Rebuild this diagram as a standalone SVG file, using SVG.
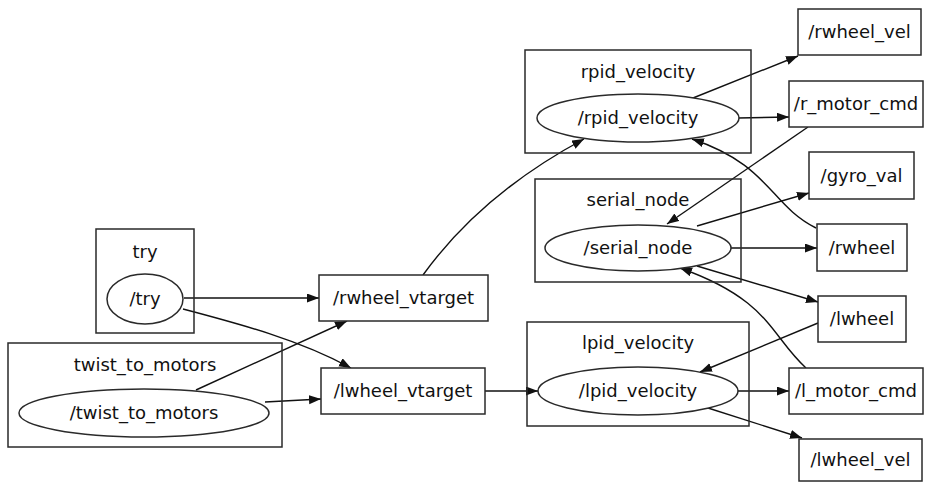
<svg xmlns="http://www.w3.org/2000/svg" width="925" height="485" viewBox="0 0 925 485">
  <style>
    .box { fill: none; stroke: #2a2a2a; stroke-width: 1.5; }
    .topic { fill: #ffffff; stroke: #2a2a2a; stroke-width: 1.5; }
    .node { fill: #ffffff; stroke: #2a2a2a; stroke-width: 1.5; }
    .edge { fill: none; stroke: #111111; stroke-width: 1.4; marker-end: url(#arrow); }
    text { font-family: "DejaVu Sans", "Liberation Sans", sans-serif; font-size: 18px; fill: #111111; text-anchor: middle; }
  </style>
  <defs>
    <marker id="arrow" markerUnits="userSpaceOnUse" markerWidth="14" markerHeight="10" refX="12" refY="4.5" orient="auto">
      <path d="M0,0 L12,4.5 L0,9 Z" fill="#111"/>
    </marker>
  </defs>
  <rect width="925" height="485" fill="#ffffff"/>

  <!-- connectors -->
  <g id="edges">
    <path class="edge" d="M184,298 L319,298"/>
    <path class="edge" d="M183,309 C240,324 300,340 351,368"/>
    <path class="edge" d="M196,390 L347,321"/>
    <path class="edge" d="M265,402 L321,399"/>
    <path class="edge" d="M423,275 C470,210 530,168 584,139"/>
    <path class="edge" d="M485,391 L538,391"/>
    <path class="edge" d="M693,98 L798,56"/>
    <path class="edge" d="M738,118 L789,117"/>
    <path class="edge" d="M808,127 L667,224"/>
    <path class="edge" d="M816,228 C770,205 770,165 692,139"/>
    <path class="edge" d="M697,226 L809,193"/>
    <path class="edge" d="M731,248 L817,248"/>
    <path class="edge" d="M697,266 L818,302"/>
    <path class="edge" d="M806,368 C770,335 770,300 680,268"/>
    <path class="edge" d="M818,323 L700,372"/>
    <path class="edge" d="M738,391 L789,391"/>
    <path class="edge" d="M708,408 L802,438"/>
  </g>

  <!-- node: try -->
  <g id="try">
    <rect class="box" x="96" y="229" width="98" height="104"/>
    <text x="145" y="258">try</text>
    <ellipse class="node" cx="145" cy="299" rx="38" ry="25"/>
    <text x="145" y="305">/try</text>
  </g>

  <!-- node: twist_to_motors -->
  <g id="twist_to_motors">
    <rect class="box" x="8" y="343" width="274" height="104"/>
    <text x="145" y="371">twist_to_motors</text>
    <ellipse class="node" cx="144" cy="413" rx="125" ry="24"/>
    <text x="144" y="419">/twist_to_motors</text>
  </g>

  <!-- topic: /rwheel_vtarget -->
  <g id="rwheel_vtarget">
    <rect class="topic" x="319" y="275" width="169" height="46"/>
    <text x="403.5" y="304">/rwheel_vtarget</text>
  </g>

  <!-- topic: /lwheel_vtarget -->
  <g id="lwheel_vtarget">
    <rect class="topic" x="321" y="368" width="164" height="46"/>
    <text x="403" y="397">/lwheel_vtarget</text>
  </g>

  <!-- node: rpid_velocity -->
  <g id="rpid_velocity">
    <rect class="box" x="525" y="50" width="226" height="103"/>
    <text x="638" y="78">rpid_velocity</text>
    <ellipse class="node" cx="638" cy="118" rx="101" ry="24"/>
    <text x="638" y="124">/rpid_velocity</text>
  </g>

  <!-- node: serial_node -->
  <g id="serial_node">
    <rect class="box" x="535" y="179" width="206" height="103"/>
    <text x="638" y="206">serial_node</text>
    <ellipse class="node" cx="638" cy="248" rx="93" ry="23"/>
    <text x="638" y="254">/serial_node</text>
  </g>

  <!-- node: lpid_velocity -->
  <g id="lpid_velocity">
    <rect class="box" x="527" y="322" width="222" height="104"/>
    <text x="638" y="349">lpid_velocity</text>
    <ellipse class="node" cx="638" cy="391" rx="100" ry="24"/>
    <text x="638" y="397">/lpid_velocity</text>
  </g>

  <!-- topic: /rwheel_vel -->
  <g id="rwheel_vel">
    <rect class="topic" x="798" y="9" width="123" height="46"/>
    <text x="859.5" y="38">/rwheel_vel</text>
  </g>

  <!-- topic: /r_motor_cmd -->
  <g id="r_motor_cmd">
    <rect class="topic" x="789" y="81" width="134" height="46"/>
    <text x="856" y="110">/r_motor_cmd</text>
  </g>

  <!-- topic: /gyro_val -->
  <g id="gyro_val">
    <rect class="topic" x="809" y="152" width="105" height="47"/>
    <text x="861.5" y="182">/gyro_val</text>
  </g>

  <!-- topic: /rwheel -->
  <g id="rwheel">
    <rect class="topic" x="817" y="224" width="90" height="47"/>
    <text x="862" y="254">/rwheel</text>
  </g>

  <!-- topic: /lwheel -->
  <g id="lwheel">
    <rect class="topic" x="818" y="296" width="88" height="46"/>
    <text x="862" y="325">/lwheel</text>
  </g>

  <!-- topic: /l_motor_cmd -->
  <g id="l_motor_cmd">
    <rect class="topic" x="789" y="368" width="134" height="46"/>
    <text x="856" y="397">/l_motor_cmd</text>
  </g>

  <!-- topic: /lwheel_vel -->
  <g id="lwheel_vel">
    <rect class="topic" x="799" y="439" width="123" height="42"/>
    <text x="860.5" y="466">/lwheel_vel</text>
  </g>
</svg>
